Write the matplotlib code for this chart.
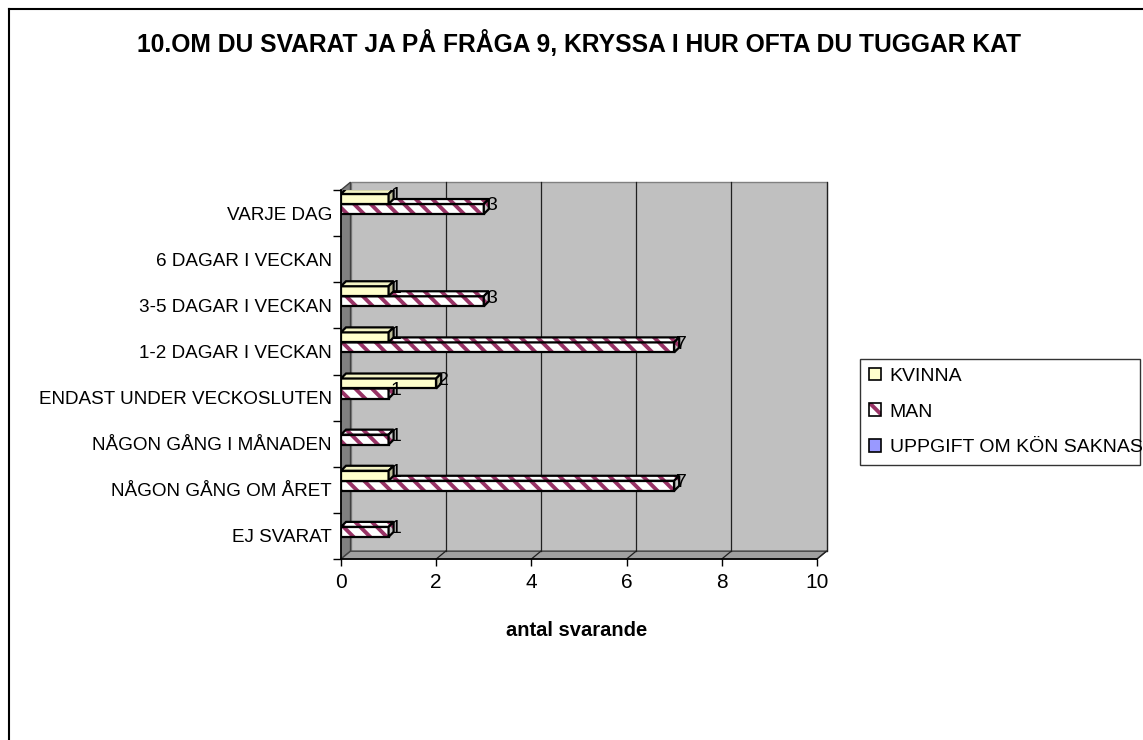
import numpy as np
import matplotlib
matplotlib.use("Agg")
import matplotlib.pyplot as plt
from matplotlib.patches import Rectangle, Polygon, Patch
from matplotlib.lines import Line2D

plt.rcParams['font.family'] = ['Liberation Sans', 'DejaVu Sans']
plt.rcParams['hatch.linewidth'] = 2.8

TITLE = "10.OM DU SVARAT JA PÅ FRÅGA 9, KRYSSA I HUR OFTA DU TUGGAR KAT"
XLABEL = "antal svarande"
CATEGORIES = [
    "VARJE DAG",
    "6 DAGAR I VECKAN",
    "3-5 DAGAR I VECKAN",
    "1-2 DAGAR I VECKAN",
    "ENDAST UNDER VECKOSLUTEN",
    "NÅGON GÅNG I MÅNADEN",
    "NÅGON GÅNG OM ÅRET",
    "EJ SVARAT",
]
SERIES = ["KVINNA", "MAN", "UPPGIFT OM KÖN SAKNAS"]
KVINNA = [1, 0, 1, 1, 2, 0, 1, 0]
MAN = [3, 0, 3, 7, 1, 1, 7, 1]
UPPGIFT = [0, 0, 0, 0, 0, 0, 0, 0]
XTICKS = [0, 2, 4, 6, 8, 10]

W, H = 1143, 740
WALL_DX, WALL_DY = 0.20, 0.17     # depth of the back wall, data units
BAR_DX, BAR_DY = 0.105, 0.108     # depth of each bar
BAR_H = 0.217
OFFSETS = [0.305, 0.088, -0.129]
HATCH_COL = "#993366"

# face, top, side colours and hatch per series
STYLES = [
    dict(face="#ffffcc", top="#f4f4c4", side="#bfbf99", hatch=None),
    dict(face="white", top="white", side="#c8c8c8", hatch="\\\\"),
    dict(face="#9999ff", top="#8c8ce6", side="#7373bf", hatch=None),
]


def box(ax, y, v, st, z):
    y0, y1 = y - BAR_H / 2, y + BAR_H / 2
    faces = [
        ([(0, y0), (v, y0), (v, y1), (0, y1)], st["face"]),
        ([(0, y1), (v, y1), (v + BAR_DX, y1 + BAR_DY), (BAR_DX, y1 + BAR_DY)], st["top"]),
        ([(v, y0), (v + BAR_DX, y0 + BAR_DY), (v + BAR_DX, y1 + BAR_DY), (v, y1)], st["side"]),
    ]
    for verts, fc in faces:
        if st["hatch"]:
            ax.add_patch(Polygon(verts, closed=True, fc=fc, ec=HATCH_COL, lw=0,
                                 hatch=st["hatch"], zorder=z))
            ax.add_patch(Polygon(verts, closed=True, fc="none", ec="black",
                                 lw=1.6, zorder=z))
        else:
            ax.add_patch(Polygon(verts, closed=True, fc=fc, ec="black",
                                 lw=1.6, zorder=z))


def main():
    fig = plt.figure(figsize=(W / 100, H / 100), dpi=100)
    ax = fig.add_axes([341 / W, (H - 559) / H, 476 / W, 369 / H])
    n = len(CATEGORIES)
    lo, hi = -0.5, n - 0.5
    ax.set_xlim(0, 10)
    ax.set_ylim(lo, hi)
    ax.set_facecolor("none")
    for s in ax.spines.values():
        s.set_visible(False)

    # walls and floor
    ax.add_patch(Rectangle((WALL_DX, lo + WALL_DY), 10, n, fc="#c0c0c0",
                           ec="#808080", lw=1, clip_on=False, zorder=0))
    ax.add_patch(Polygon([(0, lo), (WALL_DX, lo + WALL_DY), (WALL_DX, hi + WALL_DY), (0, hi)],
                         closed=True, fc="#808080", ec="#404040", lw=1,
                         clip_on=False, zorder=0.5))
    ax.add_patch(Polygon([(0, lo), (10, lo), (10 + WALL_DX, lo + WALL_DY), (WALL_DX, lo + WALL_DY)],
                         closed=True, fc="#a0a0a0", ec="#404040", lw=1,
                         clip_on=False, zorder=0.5))
    for t in XTICKS[1:]:
        ax.plot([t + WALL_DX] * 2, [lo + WALL_DY, hi + WALL_DY], color="#202020",
                lw=0.9, zorder=0.6, clip_on=False)
        ax.plot([t, t + WALL_DX], [lo, lo + WALL_DY], color="#202020",
                lw=0.9, zorder=0.6, clip_on=False)
    ax.plot([0, 10], [lo, lo], color="black", lw=1.2, zorder=0.7, clip_on=False)
    ax.plot([0, 0], [lo, hi], color="black", lw=1.2, zorder=0.7, clip_on=False)

    # bars, lower series first so upper ones sit in front
    ypos = np.arange(n)[::-1]
    data = [KVINNA, MAN, UPPGIFT]
    for j in [2, 1, 0]:
        for y, v in zip(ypos, data[j]):
            if v == 0:
                continue
            box(ax, y + OFFSETS[j], v, STYLES[j], z=4 - 0.5 * j)
    for j in range(3):
        for y, v in zip(ypos, data[j]):
            if v == 0:
                continue
            ax.annotate(str(v), (v, y + OFFSETS[j] + 0.07), xytext=(1.5, 0),
                        textcoords="offset points", ha="left", va="center",
                        fontsize=14, zorder=10)

    ax.set_yticks(ypos)
    ax.set_yticklabels(CATEGORIES)
    ax.set_yticks(np.arange(n + 1) - 0.5, minor=True)
    ax.tick_params(axis="y", which="major", length=0, pad=6.5, labelsize=13.6)
    ax.tick_params(axis="y", which="minor", length=6, width=1, direction="out")
    ax.set_xticks(XTICKS)
    ax.tick_params(axis="x", length=5, width=1, pad=5, labelsize=15)

    fig.text(579 / W, 1 - 44 / H, TITLE, ha="center", va="center",
             fontsize=17.7, fontweight="bold")
    fig.text(577 / W, 1 - 630 / H, XLABEL, ha="center", va="center",
             fontsize=14.5, fontweight="bold")

    handles = [
        Patch(facecolor="#ffffcc", edgecolor="black", lw=1.2),
        (Patch(facecolor="white", edgecolor=HATCH_COL, lw=0, hatch="\\\\"),
         Patch(facecolor="none", edgecolor="black", lw=1.2)),
        Patch(facecolor="#9999ff", edgecolor="black", lw=1.2),
    ]
    leg = fig.legend(handles, SERIES, loc="upper left",
                     bbox_to_anchor=(860 / W, 1 - 467 / H, 280 / W, 108 / H),
                     mode="expand", frameon=True, fancybox=False, fontsize=14,
                     handlelength=0.62, handleheight=0.62, handletextpad=0.45,
                     borderpad=0.45, labelspacing=0.95, borderaxespad=0)
    leg.get_frame().set_edgecolor("black")
    leg.get_frame().set_linewidth(1)

    # outer chart border (only left and top edges fall inside the picture)
    fig.add_artist(Line2D([9 / W, 9 / W], [0, 1 - 9 / H], color="black", lw=1.5,
                          transform=fig.transFigure))
    fig.add_artist(Line2D([9 / W, 1], [1 - 9 / H, 1 - 9 / H], color="black", lw=1.5,
                          transform=fig.transFigure))

    fig.savefig("out.png", dpi=100)


if __name__ == "__main__":
    main()
